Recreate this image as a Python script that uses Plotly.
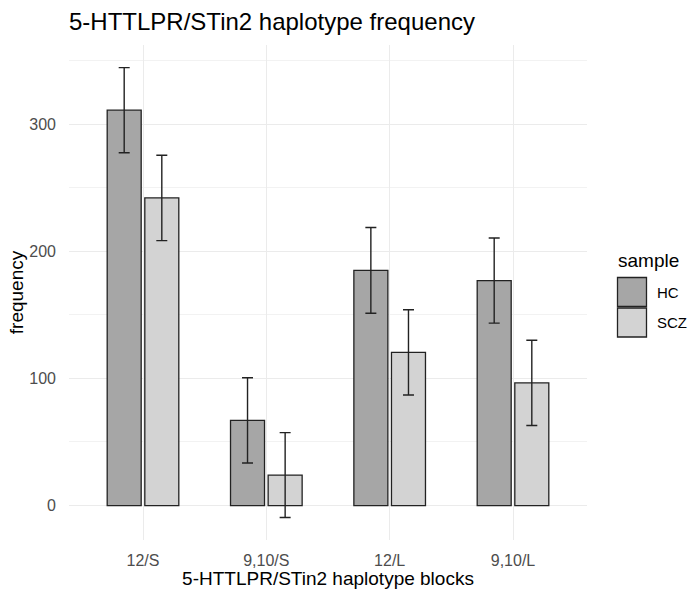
import plotly.graph_objects as go

categories = ["12/S", "9,10/S", "12/L", "9,10/L"]
hc_values = [311, 67, 185, 177]
scz_values = [242, 24, 120.5, 96.5]
hc_err = [33.5, 33.5, 33.7, 33.5]
scz_err = [33.6, 33.4, 33.5, 33.5]
series_names = ["HC", "SCZ"]
y_ticks = [0, 100, 200, 300]

W, H = 689, 589
L, R, T, B = 69, 102, 45, 49
FONT = "Liberation Sans, Arial, sans-serif"
fills = ["#A6A6A6", "#D3D3D3"]
outline = "#222222"

fig = go.Figure()
for name, vals, err, col in zip(series_names, [hc_values, scz_values], [hc_err, scz_err], fills):
    fig.add_trace(go.Bar(
        x=categories, y=vals, name=name,
        marker=dict(color=col, line=dict(color=outline, width=1.3)),
        error_y=dict(type="data", array=err, visible=True, color="#222222",
                     thickness=1.4, width=5.5),
        showlegend=False,
    ))

fig.update_layout(
    width=W, height=H,
    margin=dict(l=L, r=R, t=T, b=B, pad=0),
    paper_bgcolor="white", plot_bgcolor="white",
    barmode="group", bargap=0.39, bargroupgap=0.096,
    font=dict(family=FONT, color="#000000"),
    title=dict(text="5-HTTLPR/STin2 haplotype frequency", x=0, xref="paper",
               xanchor="left", y=1 - 22 / H, yref="container", yanchor="middle",
               font=dict(size=24, family=FONT, color="#000000")),
    xaxis=dict(
        range=[-0.6, 3.6], showgrid=True, gridcolor="#EBEBEB", gridwidth=1,
        zeroline=False, showline=False, ticks="", automargin=False,
        tickfont=dict(size=16, color="#4D4D4D", family=FONT),
        ticklabelstandoff=9,
        title=dict(text="5-HTTLPR/STin2 haplotype blocks", standoff=5,
                   font=dict(size=19, color="#000000", family=FONT)),
    ),
    yaxis=dict(
        range=[-27.1, 362.3], tickvals=y_ticks, showgrid=True, gridcolor="#EBEBEB",
        gridwidth=1, zeroline=False, showline=False, ticks="", automargin=False,
        tickfont=dict(size=16, color="#4D4D4D", family=FONT),
        ticklabelstandoff=12,
        minor=dict(dtick=50, tick0=0, showgrid=True, gridcolor="#F2F2F2", gridwidth=1),
        title=dict(text="frequency", standoff=0,
                   font=dict(size=19, color="#000000", family=FONT)),
    ),
)

# legend keys in paper coordinates (reference pixel positions converted)
pw = W - L - R
ph = H - T - B
def px(x):
    return (x - L) / pw
def py(y):
    return (H - B - y) / ph

fig.add_annotation(text="sample", x=px(616), y=py(260), xref="paper", yref="paper",
                   xanchor="left", yanchor="middle", showarrow=False,
                   font=dict(size=19, color="#000000", family=FONT))
keys = [(277.5, 306.5), (308.0, 337.0)]
for (y0, y1), col, name in zip(keys, fills, series_names):
    fig.add_shape(type="rect", xref="paper", yref="paper",
                  x0=px(617.5), x1=px(646.5), y0=py(y1), y1=py(y0),
                  fillcolor=col, line=dict(color=outline, width=1.3))
    fig.add_annotation(text=name, x=px(655), y=py((y0 + y1) / 2), xref="paper", yref="paper",
                       xanchor="left", yanchor="middle", showarrow=False,
                       font=dict(size=15, color="#000000", family=FONT))

fig.write_html(
    "out.html",
    config={"displayModeBar": False},
    post_script="document.body.style.margin='0';document.body.style.overflow='hidden';",
)
